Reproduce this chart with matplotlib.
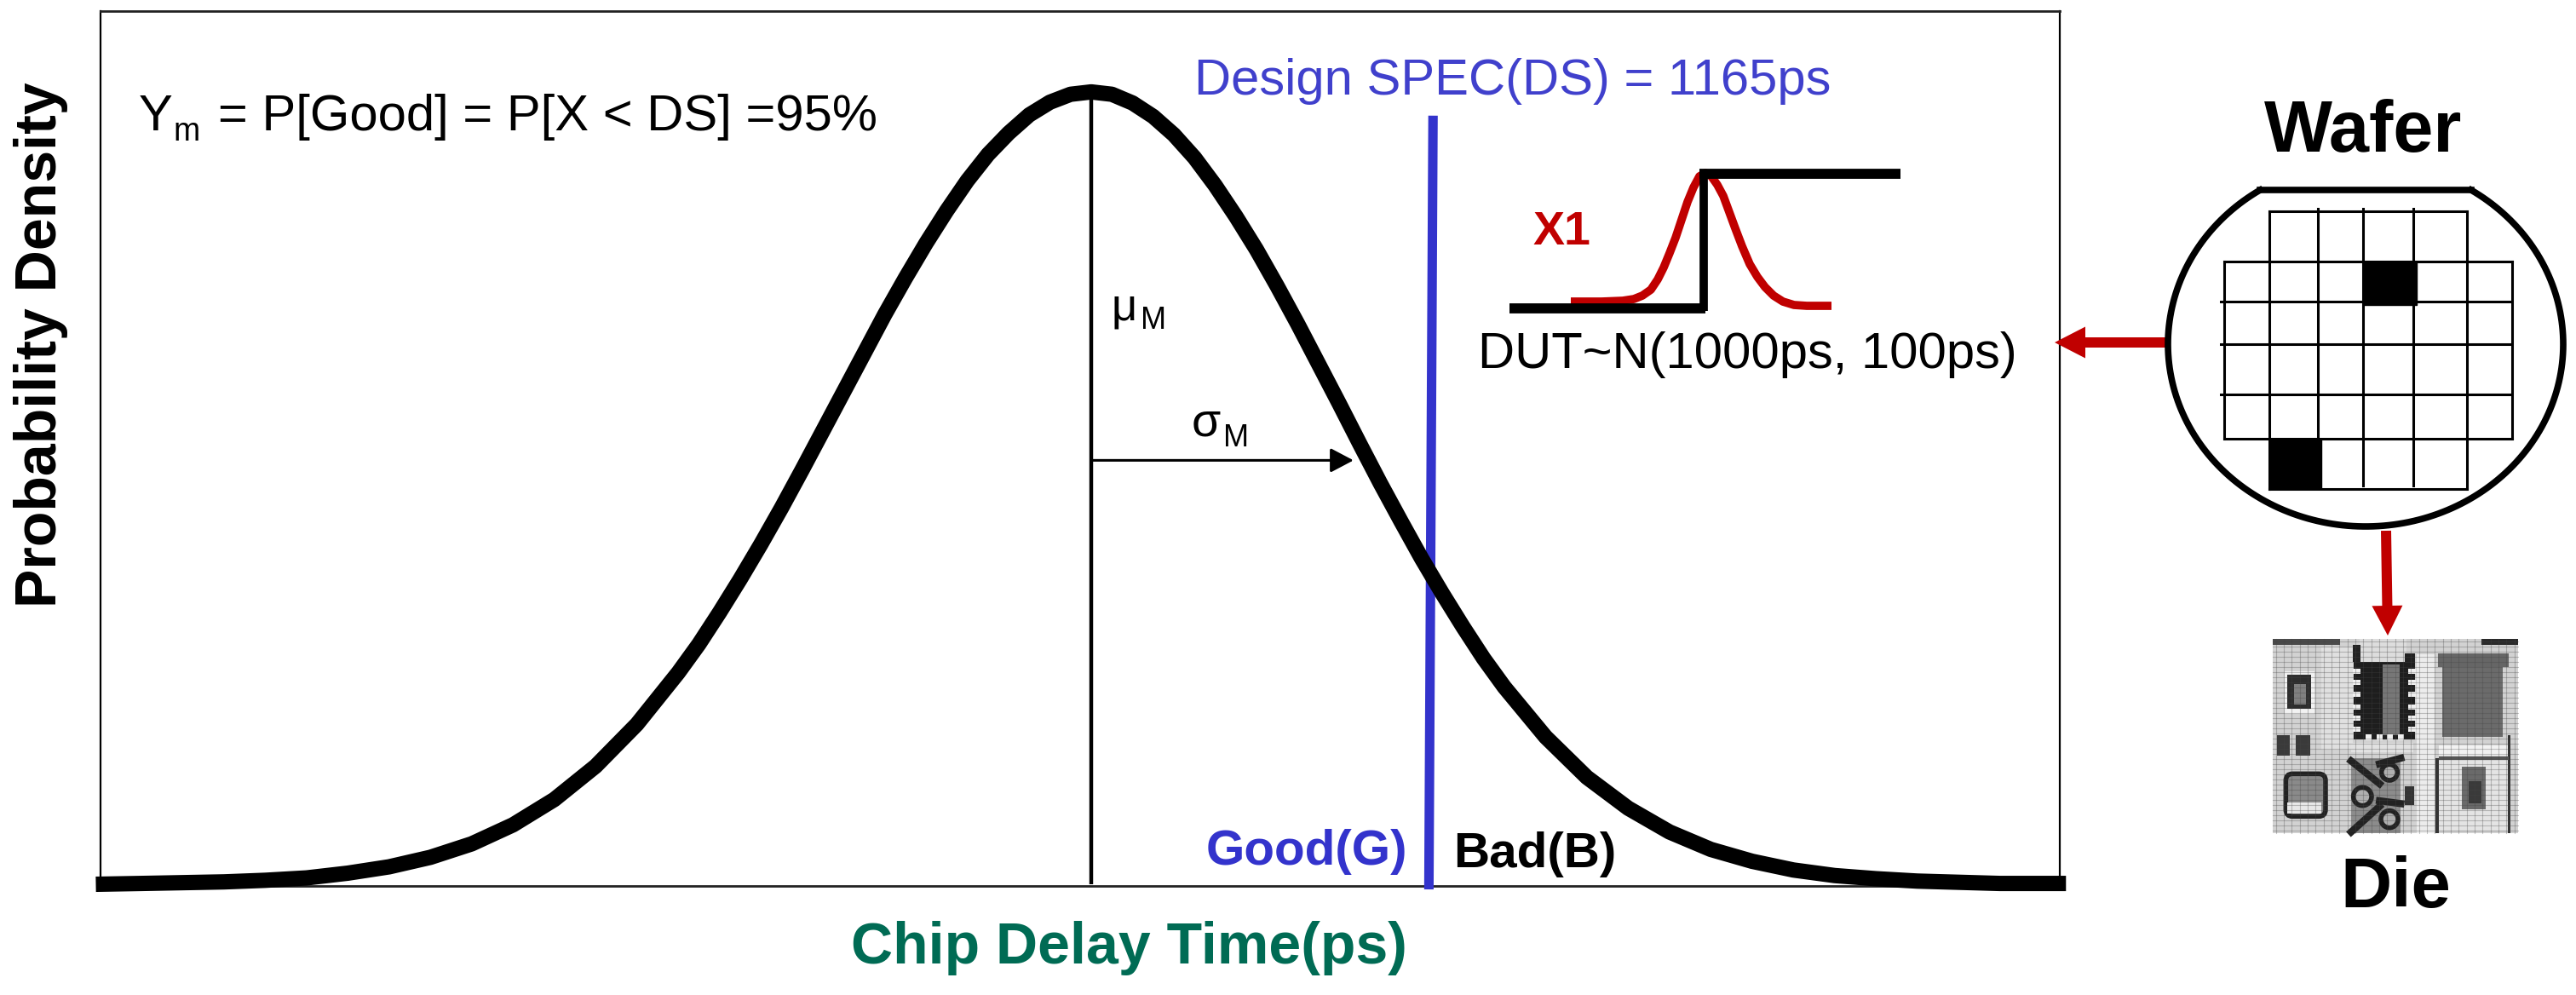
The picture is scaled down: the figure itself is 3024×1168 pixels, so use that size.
import numpy as np
import matplotlib
matplotlib.use('Agg')
import matplotlib.pyplot as plt
from matplotlib.patches import Rectangle, Circle, FancyArrow, FancyBboxPatch

plt.rcParams['font.family'] = ['Liberation Sans', 'DejaVu Sans']

# values
delay_ps = [518, 540, 560, 580, 600, 620, 640, 660, 680, 700, 720, 740, 760, 780, 800,
            810, 820, 830, 840, 850, 860, 870, 880, 890, 900, 910, 920, 930, 940, 950,
            960, 970, 980, 990, 1000, 1010, 1020, 1030, 1040, 1050, 1060, 1070, 1080,
            1090, 1100, 1110, 1120, 1130, 1140, 1150, 1160, 1170, 1180, 1190, 1200,
            1220, 1240, 1260, 1280, 1300, 1320, 1340, 1360, 1380, 1400, 1440, 1472]
density = [0.000, 0.001, 0.002, 0.003, 0.005, 0.008, 0.014, 0.022, 0.034, 0.051, 0.075, 0.107,
           0.149, 0.202, 0.267, 0.303, 0.343, 0.385, 0.429, 0.475, 0.523, 0.572, 0.621, 0.670,
           0.719, 0.765, 0.809, 0.850, 0.888, 0.921, 0.948, 0.971, 0.987, 0.997, 1.000, 0.997,
           0.986, 0.969, 0.946, 0.917, 0.882, 0.843, 0.801, 0.755, 0.707, 0.657, 0.607, 0.556,
           0.506, 0.458, 0.411, 0.367, 0.325, 0.285, 0.249, 0.186, 0.135, 0.096, 0.066, 0.044,
           0.029, 0.018, 0.011, 0.007, 0.004, 0.001, 0.001]
mean_ps = 1000
sigma_end_ps = 1127
sigma_y = 0.535
spec_top_ps = 1165.5
spec_bottom_ps = 1163.5

# small delay sketch next to the curve
dut_x = [1844, 1880, 1905, 1918, 1928, 1938, 1946, 1953, 1960, 1967, 1974, 1981, 1988, 1995, 2002,
         2009, 2016, 2023, 2030, 2037, 2045, 2054, 2063, 2072, 2082, 2093, 2106, 2121, 2150]
dut_y = [354, 354, 353, 351, 347, 340, 328, 314, 297, 279, 258, 237, 220, 207, 203,
         207, 217, 230, 249, 268, 289, 310, 325, 337, 347, 354, 358, 359, 359]

BLUE = '#3333CC'
TEXT_BLUE = '#4040CC'
RED = '#C00000'
GREEN = '#006B54'

fig = plt.figure(figsize=(30.24, 11.68), dpi=100)
fig.patch.set_facecolor('white')

ax = fig.add_axes([118 / 3024, 1 - 1040 / 1168, 2300 / 3024, 1027 / 1168])
ax.set_xlim(520.26, 1469)
ax.set_ylim(-0.00215, 1.102)
ax.set_xticks([])
ax.set_yticks([])
for side in ['left', 'right']:
    ax.spines[side].set_linewidth(1.6)
for side in ['top', 'bottom']:
    ax.spines[side].set_linewidth(2.0)
    ax.spines[side].set_color('#222222')

ax.plot([mean_ps, mean_ps], [0, 1], color='black', lw=3.2, solid_capstyle='butt', zorder=3)
ax.plot([spec_top_ps, spec_bottom_ps], [0.97, -0.0065], color=BLUE, lw=8,
        solid_capstyle='butt', clip_on=False, zorder=3)
ax.plot(delay_ps, density, color='black', lw=13, solid_capstyle='butt',
        solid_joinstyle='round', clip_on=False, zorder=4)
ax.annotate('', xy=(sigma_end_ps, sigma_y), xytext=(mean_ps, sigma_y), zorder=5,
            arrowprops=dict(arrowstyle='-|>,head_length=0.72,head_width=0.38', lw=2.2,
                            color='black', shrinkA=0, shrinkB=0, mutation_scale=23))

# everything around the chart sits on a page-sized axes, in image pixels
page = fig.add_axes([0, 0, 1, 1])
page.set_xlim(0, 3024)
page.set_ylim(1168, 0)
page.axis('off')
page.patch.set_alpha(0)

page.text(48, 405, 'Probability Density', rotation=90, ha='center', va='center',
          fontsize=49, fontweight='bold')
page.text(1325, 1131, 'Chip Delay Time(ps)', ha='center', va='baseline', fontsize=49,
          fontweight='bold', color=GREEN)
page.text(163, 153, 'Y', fontsize=43, va='baseline')
page.text(203, 165, 'm', fontsize=27, va='baseline')
page.text(256, 153, '= P[Good] = P[X < DS] =95%', fontsize=43, va='baseline')
page.text(1402, 111, 'Design SPEC(DS) = 1165ps', fontsize=43, va='baseline', color=TEXT_BLUE)
page.text(1735, 432, 'DUT~N(1000ps, 100ps)', fontsize=43, va='baseline')
page.text(1800, 287, 'X1', fontsize=40, va='baseline', color=RED, fontweight='bold')
page.text(1305, 375, 'μ', fontsize=38, va='baseline')
page.text(1339, 386, 'M', fontsize=26, va='baseline')
page.text(1399, 512, 'σ', fontsize=40, va='baseline')
page.text(1436, 524, 'M', fontsize=26, va='baseline')
page.text(1416, 1015, 'Good(G)', fontsize=42, va='baseline', color=BLUE, fontweight='bold')
page.text(1706, 1018, 'Bad(B)', fontsize=42, va='baseline', fontweight='bold')
page.text(2774, 178, 'Wafer', fontsize=61, va='baseline', ha='center', fontweight='bold')
page.text(2812, 1065, 'Die', fontsize=60, va='baseline', ha='center', fontweight='bold')

# step + red bell
page.plot(dut_x, dut_y, color=RED, lw=7, solid_capstyle='butt', zorder=2)
page.plot([1772, 2002], [362, 362], color='black', lw=8.5, solid_capstyle='butt', zorder=3)
page.plot([2000, 2000], [199, 365], color='black', lw=7, solid_capstyle='butt', zorder=3)
page.plot([1995, 2231], [204, 204], color='black', lw=8.5, solid_capstyle='butt', zorder=3)

# wafer outline with the flat on top
t = np.linspace(np.radians(122.3), np.radians(417.7), 200)
page.plot(2777 + 232 * np.cos(t), 404 - 214 * np.sin(t), color='black', lw=5.5)
page.plot([2653, 2901], [223, 223], color='black', lw=5.5)

page.add_patch(Rectangle((2774, 307), 63, 51, color='black'))
page.add_patch(Rectangle((2664, 515), 61, 59, color='black'))
grid_lw = 2.2
for y in [307, 515]:
    page.plot([2611, 2949], [y, y], color='black', lw=grid_lw)
for y in [354, 404, 463]:
    page.plot([2607, 2946], [y, y], color='black', lw=grid_lw)
for y in [248, 574]:
    page.plot([2664, 2896], [y, y], color='black', lw=grid_lw)
for x, y0, y1 in [(2611, 307, 515), (2949, 307, 515), (2664, 248, 574), (2896, 248, 574),
                  (2721, 245, 515), (2774, 245, 570), (2833, 245, 570)]:
    page.plot([x, x], [y0, y1], color='black', lw=grid_lw)

# red arrows
page.add_patch(FancyArrow(2543, 402, -131, 0, width=12, head_width=37, head_length=36,
                          length_includes_head=True, color=RED, lw=0))
page.add_patch(FancyArrow(2801, 623, 2, 123, width=12, head_width=36, head_length=35,
                          length_includes_head=True, color=RED, lw=0))


# die photo, sketched in the coordinates of a 3x crop
def die_box(u0, v0, u1, v1, color):
    page.add_patch(Rectangle((2650 + u0 / 3, 740 + v0 / 3), (u1 - u0) / 3, (v1 - v0) / 3,
                             facecolor=color, edgecolor='none', zorder=6))


def die_ring(u, v, r, face='#b0b0b0'):
    page.add_patch(Circle((2650 + u / 3, 740 + v / 3), r / 3, facecolor=face,
                          edgecolor='#222222', lw=4, zorder=7))


die_box(55, 30, 918, 715, '#d2d2d2')
die_box(55, 30, 290, 50, '#4a4a4a')
die_box(790, 30, 918, 50, '#2a2a2a')
die_box(360, 30, 525, 110, '#dddddd')
die_box(225, 60, 335, 420, '#e0e0e0')

# central block with pads
die_box(340, 110, 555, 385, '#1e1e1e')
die_box(440, 120, 500, 370, '#777777')
for v in [135, 175, 215, 260, 300, 340]:
    die_box(335, v, 362, v + 18, '#f0f0f0')
    die_box(530, v, 557, v + 18, '#f0f0f0')
for u in [380, 420, 455, 495]:
    die_box(u, 365, u + 22, 387, '#f0f0f0')
    die_box(u, 92, u + 16, 112, '#dddddd')
die_box(335, 50, 362, 110, '#222222')
die_box(520, 80, 555, 115, '#222222')

# right block
die_box(635, 80, 885, 130, '#666666')
die_box(650, 130, 865, 375, '#6b6b6b')
die_box(640, 405, 885, 440, '#f2f2f2')
die_box(560, 85, 625, 715, '#ececec')
die_box(330, 395, 550, 430, '#e2e2e2')

# small block top left
die_box(95, 145, 200, 295, '#f2f2f2')
die_box(105, 155, 190, 275, '#2e2e2e')
die_box(130, 190, 170, 260, '#808080')
die_box(70, 370, 115, 440, '#3a3a3a')
die_box(135, 370, 185, 440, '#3a3a3a')

# lower left
page.add_patch(FancyBboxPatch((2650 + 100 / 3, 740 + 505 / 3), 140 / 3, 150 / 3,
                              boxstyle='round,pad=0,rounding_size=8', facecolor='#8a8a8a',
                              edgecolor='#222222', lw=4, zorder=6))
die_box(105, 605, 225, 645, '#e8e8e8')

# lower centre, rings and diagonals
die_box(330, 450, 505, 715, '#8c8c8c')
for u0, v0, u1, v1 in [(330, 460, 430, 540), (505, 450, 430, 470), (430, 620, 330, 710),
                       (505, 610, 430, 600)]:
    page.plot([2650 + u0 / 3, 2650 + u1 / 3], [740 + v0 / 3, 740 + v1 / 3],
              color='#222222', lw=6, zorder=7)
die_ring(465, 500, 28)
die_ring(370, 585, 32)
die_ring(465, 665, 30)
die_box(520, 550, 552, 615, '#333333')

# lower right
die_box(640, 460, 885, 705, '#e4e4e4')
die_box(720, 480, 805, 630, '#6a6a6a')
die_box(745, 530, 790, 610, '#3a3a3a')
die_box(628, 450, 638, 715, '#333333')
die_box(882, 370, 892, 715, '#333333')
die_box(638, 445, 885, 455, '#555555')

# scan-line texture over the photo
for v in np.arange(40, 715, 18):
    page.plot([2668, 2956], [740 + v / 3, 740 + v / 3], color='#444444', lw=0.8, alpha=0.3, zorder=8)
for u in np.arange(65, 918, 28):
    page.plot([2650 + u / 3, 2650 + u / 3], [750, 978], color='#444444', lw=0.8, alpha=0.3, zorder=8)

fig.savefig('out.png', dpi=100, facecolor='white')
